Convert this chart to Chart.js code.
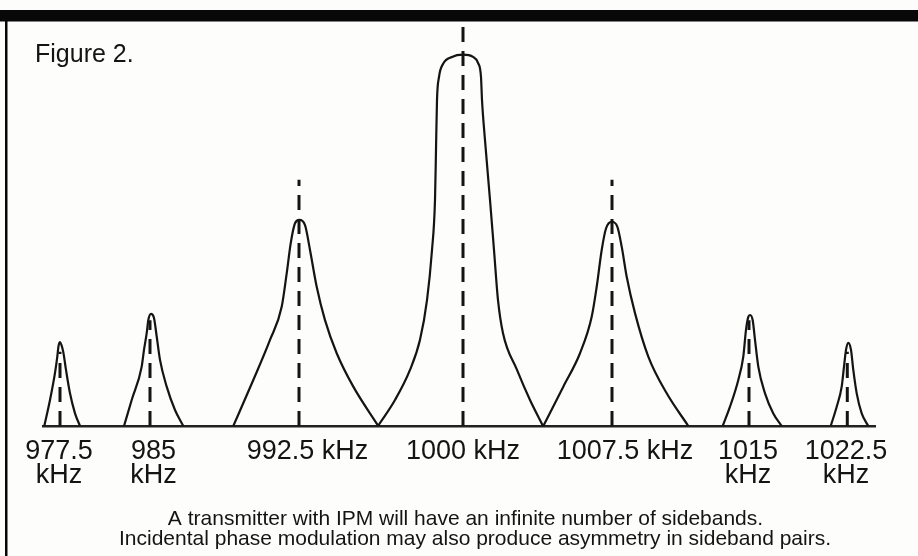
<!DOCTYPE html>
<html>
<head>
<meta charset="utf-8">
<title>Figure 2 - IPM sidebands</title>
<script src="https://cdn.jsdelivr.net/npm/chart.js@4.4.1/dist/chart.umd.min.js"></script>
<style>
  html, body { margin: 0; padding: 0; background: #fff; }
  #wrap { width: 918px; height: 556px; }
</style>
</head>
<body>
<div id="wrap"><canvas id="spectrumChart" width="918" height="556"></canvas></div>
<script>
'use strict'
var spectrumChartArea = document.getElementById('spectrumChart');

// x = position along the baseline (schematic, not to scale), y = relative amplitude (carrier = 100)
var freqLabels = [['977.5', 'kHz'], ['985', 'kHz'], '992.5 kHz', '1000 kHz', '1007.5 kHz', ['1015', 'kHz'], ['1022.5', 'kHz']];
var labelPos = [16, 110.5, 264.5, 420, 582, 705, 803];
var peakPos = [17, 107, 256, 420, 569, 706, 804.3];
var markerTop = [20, 28.5, 66.3, 107.7, 66.3, 28.5, 20];

var outline9775 = [[1.3, 0], [7, 7.0], [12, 14.3], [14.3, 18.7], [15.5, 21.5], [17, 22.6], [18.5, 21.8], [20.3, 19.9], [23, 15.1], [27, 8.8], [32, 3.4], [37, 0]];
var outline985 = [[81, 0], [88.7, 7.0], [98.7, 16.0], [101, 20.5], [103.7, 25.0], [105.3, 28.5], [108, 30.2], [111, 29.1], [113.7, 24.1], [117, 17.8], [123.7, 10.6], [132, 4.3], [140.3, 0]];
var outline9925 = [[190.3, 0], [210.3, 12.4], [227, 23.2], [238.7, 32.1], [243.7, 41.1], [247.7, 49.2], [252, 54.6], [256.3, 55.5], [262, 54.1], [267, 47.4], [273.7, 37.5], [282, 28.5], [293.7, 19.6], [310.3, 10.6], [335.3, 0]];
var outline1000 = [[335, 0], [352, 7.0], [367, 15.1], [377, 23.2], [384, 33.9], [389, 47.4], [392, 60.9], [393, 74.3], [394, 87.8], [396, 94.0], [400, 97.5], [409, 99.4], [420, 100], [430, 99.4], [435, 97.8], [438, 94.0], [439, 87.8], [442, 77.0], [447, 60.9], [451, 47.4], [455, 33.9], [460, 25.0], [474, 15.1], [487, 7.0], [500, 0]];
var outline10075 = [[500.3, 0], [520.3, 10.6], [537, 19.6], [548.7, 29.4], [553.7, 37.5], [558.7, 47.4], [563, 53.2], [568.7, 55.0], [574.3, 53.7], [578.7, 48.3], [583.7, 40.2], [592, 30.4], [605.3, 18.7], [623.7, 8.8], [645.3, 0]];
var outline1015 = [[679.7, 0], [687, 5.2], [695.3, 12.4], [700.3, 18.7], [703, 25.9], [705.3, 29.4], [707, 29.9], [709.7, 28.5], [712, 23.2], [715.3, 16.0], [722, 8.8], [730.3, 3.4], [738.7, 0]];
var outline10225 = [[787.7, 0], [793.7, 5.2], [798.7, 10.6], [801, 16.0], [803, 20.5], [805.3, 22.4], [808, 20.5], [810.3, 15.1], [813.7, 8.8], [818.7, 3.4], [825.3, 0]];

var figureTitle = 'Figure 2.';
var captionLines = [
    'A transmitter with IPM will have an infinite number of sidebands.',
    'Incidental phase modulation may also produce asymmetry in sideband pairs.'
];

var ink = '#141414';
var outlines = [outline9775, outline985, outline9925, outline1000, outline10075, outline1015, outline10225];

var datasets = [];
outlines.forEach(function(pts) {
    datasets.push({
        data: pts,
        borderColor: ink,
        borderWidth: 2.2,
        pointRadius: 0,
        fill: false,
        cubicInterpolationMode: 'monotone'
    });
});
peakPos.forEach(function(x, i) {
    datasets.push({
        data: [[x, 0], [x, markerTop[i]]],
        borderColor: ink,
        borderWidth: 3,
        borderDash: [15, 9],
        pointRadius: 0,
        fill: false
    });
});

var figureFrame = {
    id: 'figureFrame',
    beforeDraw: function(chart) {
        var ctx = chart.ctx;
        ctx.save();
        ctx.fillStyle = '#fdfdfc';
        ctx.fillRect(0, 0, chart.width, chart.height);
        ctx.fillStyle = '#080808';
        ctx.fillRect(0, 10, chart.width, 11.5);
        ctx.fillRect(5, 10, 2.5, chart.height - 10);
        ctx.restore();
    },
    afterDraw: function(chart) {
        var ctx = chart.ctx;
        ctx.save();
        ctx.fillStyle = ink;
        ctx.textBaseline = 'alphabetic';
        ctx.textAlign = 'left';
        ctx.font = '25px "Liberation Sans", Arial, sans-serif';
        ctx.fillText(figureTitle, 35, 62);
        ctx.textAlign = 'center';
        ctx.font = '21px "Liberation Sans", Arial, sans-serif';
        ctx.fillText(captionLines[0], 465.5, 525);
        ctx.fillText(captionLines[1], 475, 545);
        ctx.restore();
    }
};

var spectrumChart = new Chart(spectrumChartArea, {
    type: 'line',
    data: { datasets: datasets },
    plugins: [figureFrame],
    options: {
        responsive: false,
        animation: false,
        layout: { padding: { top: 25, left: 43, right: 43, bottom: 0 } },
        plugins: {
            legend: { display: false },
            tooltip: { enabled: false },
            title: { display: false }
        },
        scales: {
            x: {
                type: 'linear',
                min: 0,
                max: 832,
                grid: { display: false, drawTicks: false },
                border: { display: true, color: '#222', width: 2.5 },
                afterBuildTicks: function(scale) {
                    scale.ticks = labelPos.map(function(v) { return { value: v }; });
                },
                afterFit: function(scale) {
                    scale.height = 130;
                },
                ticks: {
                    autoSkip: false,
                    maxRotation: 0,
                    minRotation: 0,
                    padding: 14,
                    color: ink,
                    font: { family: '"Liberation Sans", Arial, sans-serif', size: 27, lineHeight: 0.88 },
                    callback: function(value, index) {
                        return freqLabels[index];
                    }
                }
            },
            y: {
                display: false,
                min: 0,
                max: 108
            }
        }
    }
});
</script>
</body>
</html>
